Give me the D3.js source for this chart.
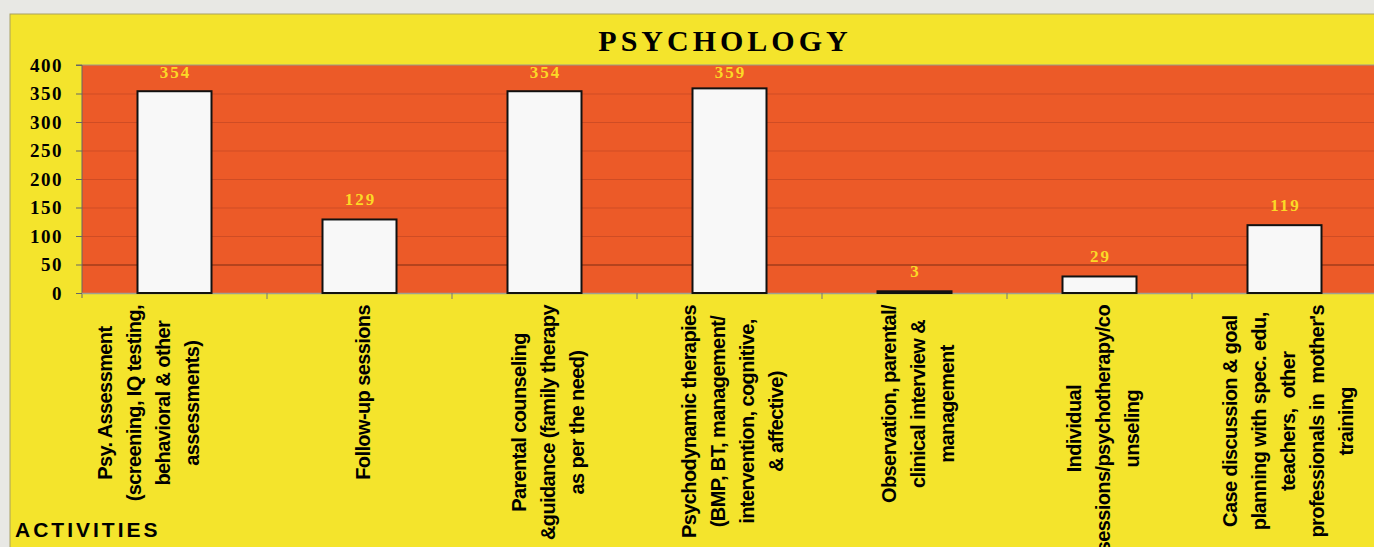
<!DOCTYPE html>
<html>
<head>
<meta charset="utf-8">
<script src="https://cdn.jsdelivr.net/npm/d3@7"></script>
<style>
  body { margin: 0; background: #e8e8e4; overflow: hidden; }
</style>
</head>
<body>
<div class="chart"></div>
<script>
const W = 1374, H = 547;

// data
const categories = [
  "Psy. Assessment\n(screening, IQ testing,\nbehavioral & other\nassessments)\n\n",
  "Follow-up sessions",
  "Parental counseling\n&guidance (family therapy\nas per the need)",
  "Psychodynamic therapies\n(BMP, BT, management/\nintervention, cognitive,\n& affective)",
  "Observation, parental/\nclinical interview &\nmanagement",
  "Individual\nsessions/psychotherapy/co\nunseling",
  "Case discussion & goal\nplanning with spec. edu,\nteachers,  other\nprofessionals in  mother's\ntraining"
];
const values = [354, 129, 354, 359, 3, 29, 119];
const yTicks = [0, 50, 100, 150, 200, 250, 300, 350, 400];
const title = "PSYCHOLOGY";
const axisTitle = "ACTIVITIES";

const margin = { top: 65, left: 82, bottom: 293 };
const band = 185;

const svg = d3.select(".chart")
              .append("svg")
              .attr("width", W)
              .attr("height", H);

// yellow panel
svg.append("rect")
   .attr("x", 10).attr("y", 14)
   .attr("width", W).attr("height", H)
   .attr("fill", "#f4e42c")
   .attr("stroke", "#a8a060")
   .attr("stroke-width", 1);

// scales
let xScale = d3.scaleBand()
               .domain(d3.range(categories.length))
               .range([margin.left, margin.left + band * categories.length])
               .paddingInner(0).paddingOuter(0);

let yScale = d3.scaleLinear()
               .domain([0, 400])
               .range([margin.bottom, margin.top]);

// plot area
svg.append("rect")
   .attr("x", margin.left).attr("y", yScale(400))
   .attr("width", W - margin.left).attr("height", yScale(0) - yScale(400))
   .attr("fill", "#ec5a28");

// gridlines
svg.append("g")
   .selectAll("line")
   .data(yTicks.filter(d => d > 0 && d < 400))
   .enter().append("line")
   .attr("x1", margin.left).attr("x2", W)
   .attr("y1", d => yScale(d) + 0.5).attr("y2", d => yScale(d) + 0.5)
   .attr("stroke", d => d === 50 ? "#7e2c12" : "#cf4c24")
   .attr("stroke-width", 1);

// top border of plot
svg.append("line")
   .attr("x1", margin.left).attr("x2", W)
   .attr("y1", yScale(400)).attr("y2", yScale(400))
   .attr("stroke", "#9a9a8a");

// y axis
let yAxis = d3.axisLeft(yScale).tickValues(yTicks).tickSize(6).tickPadding(13);
svg.append("g")
   .attr("class", "yAxis")
   .attr("transform", `translate(${margin.left}, 0)`)
   .call(yAxis)
   .call(g => g.select(".domain").attr("stroke", "#666").attr("d", `M-6,${yScale(400)}H0V${yScale(0) + 5}`))
   .call(g => g.selectAll("line").attr("stroke", "#666"))
   .call(g => g.selectAll("text")
               .attr("fill", "#000")
               .style("font-family", "'Liberation Serif', 'Times New Roman', serif")
               .style("font-weight", "bold")
               .style("font-size", "19px")
               .style("letter-spacing", "1.5px"));

// x axis line + tick marks at category boundaries
svg.append("line")
   .attr("x1", margin.left).attr("x2", W)
   .attr("y1", yScale(0) + 0.5).attr("y2", yScale(0) + 0.5)
   .attr("stroke", "#a0a090").attr("stroke-width", 1.5);

svg.append("g")
   .selectAll("line")
   .data(d3.range(1, categories.length))
   .enter().append("line")
   .attr("x1", d => xScale(d)).attr("x2", d => xScale(d))
   .attr("y1", yScale(0)).attr("y2", yScale(0) + 6)
   .attr("stroke", "#777");

// bars
let barW = band * 0.4;
svg.selectAll(".bar")
   .data(values)
   .enter().append("rect")
   .attr("class", "bar")
   .attr("x", (d, i) => xScale(i) + (band - barW) / 2)
   .attr("y", d => yScale(d))
   .attr("width", barW)
   .attr("height", d => yScale(0) - yScale(d))
   .attr("fill", "#f8f8f8")
   .attr("stroke", "#111")
   .attr("stroke-width", 2);

// value labels (kept inside the plot area at the top)
svg.selectAll(".valLabel")
   .data(values)
   .enter().append("text")
   .attr("class", "valLabel")
   .attr("x", (d, i) => xScale(i) + band / 2 + 1)
   .attr("y", d => Math.max(yScale(d) - 14, yScale(400) + 12.5))
   .attr("text-anchor", "middle")
   .attr("fill", "#fbd926")
   .style("font-family", "'Liberation Serif', 'Times New Roman', serif")
   .style("font-weight", "bold")
   .style("font-size", "17px")
   .style("letter-spacing", "2px")
   .text(d => d);

// rotated category labels
const lineGap = 29;
categories.forEach((c, i) => {
    let lines = c.split("\n");
    let n = lines.length;
    let g = svg.append("g").attr("class", "catLabel");
    let texts = lines.map((t, j) => g.append("text")
        .attr("text-anchor", "middle")
        .attr("dy", "0.35em")
        .attr("fill", "#000")
        .style("white-space", "pre")
        .style("font-family", "'Liberation Sans', Arial, sans-serif")
        .style("font-weight", "bold")
        .style("font-size", "20px")
        .style("letter-spacing", "-0.6px")
        .text(t));
    let maxLen = d3.max(texts, t => t.node().getComputedTextLength());
    let yc = yScale(0) + 12 + maxLen / 2;
    texts.forEach((t, j) => {
        let xc = xScale(i) + band / 2 + 3 + (j - (n - 1) / 2) * lineGap;
        t.attr("transform", `translate(${xc}, ${yc}) rotate(-90)`);
    });
});

// title
svg.append("text")
   .attr("x", 725).attr("y", 51)
   .attr("text-anchor", "middle")
   .style("font-family", "'Liberation Serif', 'Times New Roman', serif")
   .style("font-weight", "bold")
   .style("font-size", "30px")
   .style("letter-spacing", "4px")
   .text(title);

// axis title
svg.append("text")
   .attr("x", 15).attr("y", 537)
   .style("font-family", "'Liberation Sans', Arial, sans-serif")
   .style("font-weight", "bold")
   .style("font-size", "21px")
   .style("letter-spacing", "3px")
   .text(axisTitle);
</script>
</body>
</html>
